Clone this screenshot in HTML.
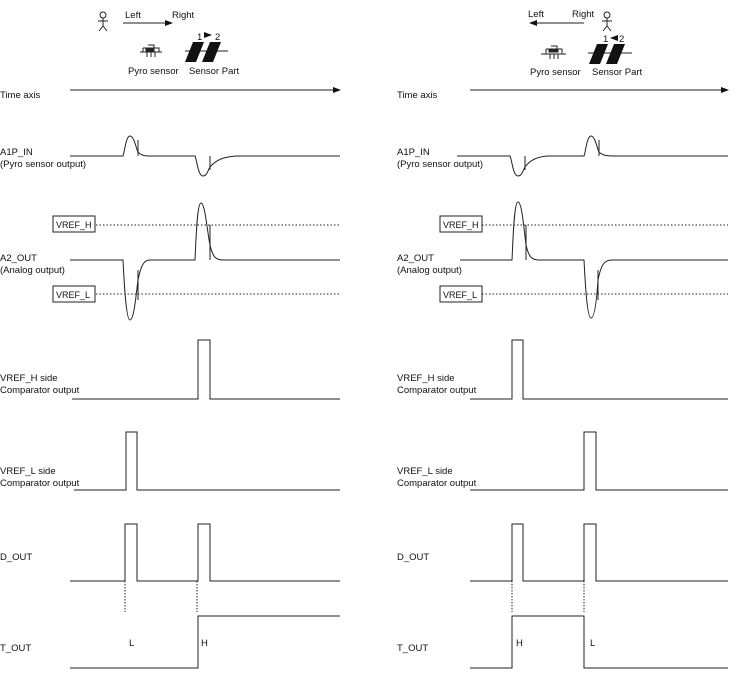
<!DOCTYPE html>
<html><head><meta charset="utf-8">
<style>
html,body{margin:0;padding:0;background:#fff;width:740px;height:681px;overflow:hidden}
svg{display:block}
text{font-family:"Liberation Sans",sans-serif;font-size:9.5px;fill:#111}
.b{font-size:9px}
</style></head><body>
<svg width="740" height="681" viewBox="0 0 740 681" xmlns="http://www.w3.org/2000/svg">
<defs>
<marker id="ah" markerWidth="8" markerHeight="6" refX="7" refY="3" orient="auto" markerUnits="userSpaceOnUse"><path d="M0,0 L8,3 L0,6z" fill="#111"/></marker>
</defs>
<g fill="none" stroke="#222" stroke-width="1">

<!-- LEFT HEADER -->
<circle cx="103" cy="15" r="3"/>
<path d="M103,18 V26 M98,21 H108 M103,26 L99,31 M103,26 L107,31"/>
<path d="M123,23 H172" marker-end="url(#ah)"/>
<path d="M140,52 H162 M143,48 H159 V52 M143,48 V52 M148,45 H154 V48 M147,52 V57 M151,52 V57 M155,52 V57"/>
<rect x="146" y="49" width="8" height="2" fill="#222"/>
<path d="M185,51 H228"/>
<polygon points="193,42 204,42 196,62 185,62" fill="#111" stroke="none"/>
<polygon points="210,42 221,42 213,62 202,62" fill="#111" stroke="none"/>
<path d="M205,35 H211" marker-end="url(#ah)"/>
<path d="M70,90 H340" marker-end="url(#ah)"/>

<!-- A1P_IN left -->
<path d="M70,156 H123 C125,150 126,136 130,136 C134,136 136,148 138,152 C142,156 146,156 150,156 H195 C197,160 198,176 203,176 C207,176 208,170 210,167 C216,160 224,156 240,156 H340"/>
<path d="M138,140 V156 M210,156 V170"/>
<path d="M96,225 H340 M96,294 H340" stroke-dasharray="1.5,2"/>
<!-- A2_OUT left -->
<path d="M70,260 H123 C124,280 126,320 130,320 C134,320 136,295 138,280 C141,265 144,260 150,260 H195 C196,240 197,203 201,203 C205,203 207,230 210,245 C213,258 216,260 224,260 H340"/>
<path d="M138,270 V300 M210,225 V260"/>
<path d="M72,399 H198 V340 H210 V399 H340"/>
<path d="M74,490 H126 V432 H137 V490 H340"/>
<path d="M70,581 H125 V524 H137 V581 H198 V524 H210 V581 H340"/>
<path d="M125,581 V612 M197,581 V612" stroke-dasharray="1.5,1.5"/>
<path d="M70,668 H198 V616 H340"/>

<!-- RIGHT HEADER -->
<circle cx="607" cy="15" r="3"/>
<path d="M607,18 V26 M602,21 H612 M607,26 L603,31 M607,26 L611,31"/>
<path d="M584,23 H530" marker-end="url(#ah)"/>
<path d="M541,54 H566 M546,49 H562 V54 M546,49 V54 M551,46 H557 V49 M550,54 V59 M554,54 V59 M558,54 V59"/>
<rect x="549" y="50" width="9" height="2" fill="#222"/>
<path d="M588,53 H632"/>
<polygon points="597,44 608,44 600,64 589,64" fill="#111" stroke="none"/>
<polygon points="614,44 625,44 617,64 606,64" fill="#111" stroke="none"/>
<path d="M616,38 H611" marker-end="url(#ah)"/>
<path d="M470,90 H728" marker-end="url(#ah)"/>

<path d="M457,156 H510 C512,160 513,176 518,176 C522,176 523,170 525,167 C530,160 538,156 550,156 H584 C586,150 587,136 591,136 C595,136 597,148 599,152 C603,156 608,156 617,156 H728"/>
<path d="M525,156 V170 M599,140 V156"/>
<path d="M482,225 H728 M482,294 H728" stroke-dasharray="1.5,2"/>
<path d="M460,260 H512 C513,240 514,202 518,202 C522,202 524,230 526,245 C529,258 532,260 540,260 H584 C585,280 587,318 591,318 C595,318 597,295 598,280 C601,265 604,260 612,260 H728"/>
<path d="M526,225 V260 M598,270 V300"/>
<path d="M470,399 H512 V340 H523 V399 H728"/>
<path d="M470,490 H584 V432 H596 V490 H728"/>
<path d="M470,581 H512 V524 H523 V581 H584 V524 H596 V581 H728"/>
<path d="M512,581 V612 M584,581 V612" stroke-dasharray="1.5,1.5"/>
<path d="M470,668 H512 V616 H584 V668 H728"/>

<rect x="53" y="216" width="42" height="16" fill="#fff"/>
<rect x="53" y="286" width="42" height="16" fill="#fff"/>
<rect x="440" y="216" width="42" height="16" fill="#fff"/>
<rect x="440" y="286" width="42" height="16" fill="#fff"/>
</g>

<text x="125" y="18">Left</text>
<text x="172" y="18">Right</text>
<text x="197" y="40">1</text><text x="215" y="40">2</text>
<text x="128" y="74">Pyro sensor</text>
<text x="189" y="74">Sensor Part</text>
<text x="0" y="98">Time axis</text>
<text x="0" y="155">A1P_IN</text>
<text x="0" y="167">(Pyro sensor output)</text>
<text class="b" x="56" y="228">VREF_H</text>
<text x="0" y="261">A2_OUT</text>
<text x="0" y="273">(Analog output)</text>
<text class="b" x="56" y="298">VREF_L</text>
<text x="0" y="381">VREF_H side</text>
<text x="0" y="393">Comparator output</text>
<text x="0" y="474">VREF_L side</text>
<text x="0" y="486">Comparator output</text>
<text x="0" y="560">D_OUT</text>
<text x="129" y="646">L</text>
<text x="201" y="646">H</text>
<text x="0" y="651">T_OUT</text>

<text x="528" y="17">Left</text>
<text x="572" y="17">Right</text>
<text x="603" y="42">1</text><text x="619" y="42">2</text>
<text x="530" y="75">Pyro sensor</text>
<text x="592" y="75">Sensor Part</text>
<text x="397" y="98">Time axis</text>
<text x="397" y="155">A1P_IN</text>
<text x="397" y="167">(Pyro sensor output)</text>
<text class="b" x="443" y="228">VREF_H</text>
<text x="397" y="261">A2_OUT</text>
<text x="397" y="273">(Analog output)</text>
<text class="b" x="443" y="298">VREF_L</text>
<text x="397" y="381">VREF_H side</text>
<text x="397" y="393">Comparator output</text>
<text x="397" y="474">VREF_L side</text>
<text x="397" y="486">Comparator output</text>
<text x="397" y="560">D_OUT</text>
<text x="516" y="646">H</text>
<text x="590" y="646">L</text>
<text x="397" y="651">T_OUT</text>
</svg>
</body></html>
